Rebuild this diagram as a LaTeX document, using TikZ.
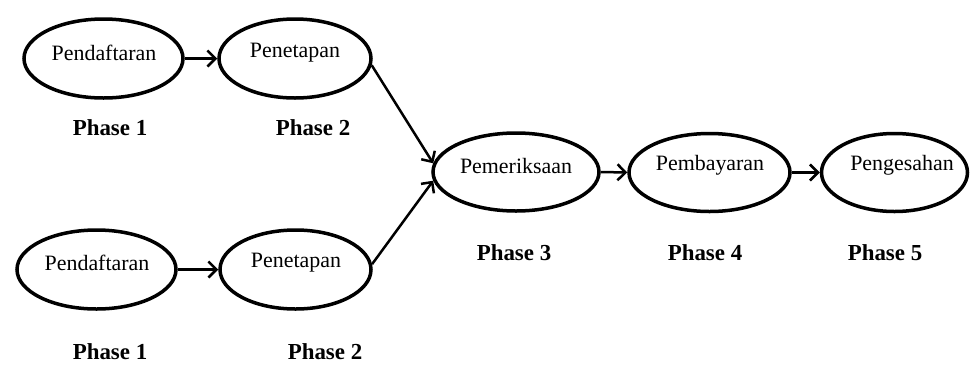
\documentclass[tikz,border=0pt]{standalone}
\usepackage{fontspec}
\setmainfont{Liberation Serif}
\usetikzlibrary{shapes.geometric,arrows.meta}
\begin{document}
\begin{tikzpicture}[x=1bp,y=-1bp,
  ell/.style={draw, line width=3.5bp, ellipse, inner sep=0pt, minimum height=79bp},
  lbl/.style={font=\fontsize{22}{24}\selectfont},
  phase/.style={font=\fontsize{23}{26}\selectfont\bfseries},
  conn/.style={line width=2.5bp, -{Straight Barb[length=8bp,width=16bp,line width=2.5bp]}}]
\useasboundingbox (0,0) rectangle (972,367);
% ellipses
\node[ell, minimum width=159bp] (a1) at (103.5,58.5) {};
\node[ell, minimum width=152bp] (b1) at (295,58.5) {};
\node[ell, minimum width=159bp] (a2) at (96.5,269.5) {};
\node[ell, minimum width=151bp] (b2) at (295.5,269.5) {};
\node[ell, minimum width=166bp, minimum height=78bp] (c) at (516,172) {};
\node[ell, minimum width=161bp, minimum height=78bp] (d) at (709.5,172.5) {};
\node[ell, minimum width=146bp, minimum height=78bp] (e) at (894.5,172.5) {};
% texts
\node[lbl] (ta1) at (104,53) {Pendaftaran};
\node[lbl] (tb1) at (295,53) {Penetapan};
\node[lbl] (ta2) at (97,263) {Pendaftaran};
\node[lbl] (tb2) at (296,263) {Penetapan};
\node[lbl] (tc) at (516,166) {Pemeriksaan};
\node[lbl] (td) at (710,165) {Pembayaran};
\node[lbl] (te) at (902,165) {Pengesahan};
% phases
\node[phase] (p1) at (110,128) {Phase 1};
\node[phase] (p2) at (313,128) {Phase 2};
\node[phase] (p3) at (514,253) {Phase 3};
\node[phase] (p4) at (705,253) {Phase 4};
\node[phase] (p5) at (885,253) {Phase 5};
\node[phase] (q1) at (110,352) {Phase 1};
\node[phase] (q2) at (325,352) {Phase 2};
% connectors
\draw[conn] (a1.east) -- (b1.west);
\draw[conn] (a2.east) -- (b2.west);
\draw[conn] (b1.-5) -- (c.174);
\draw[conn] (b2.4) -- (c.186);
\draw[conn] (c.east) -- (d.west);
\draw[conn] (d.east) -- (e.west);
\end{tikzpicture}
\end{document}
